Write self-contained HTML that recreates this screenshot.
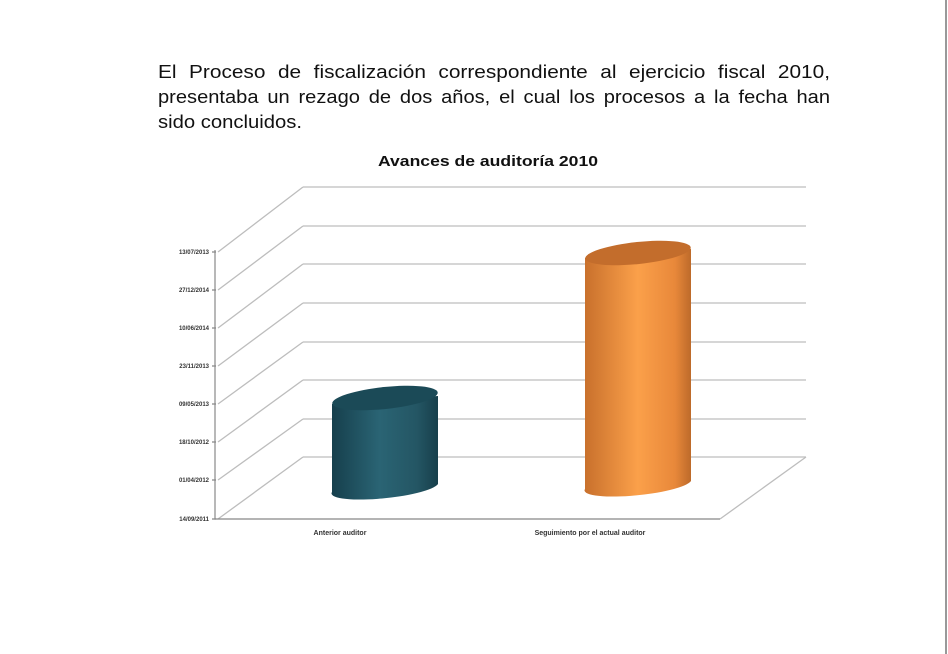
<!DOCTYPE html>
<html><head><meta charset="utf-8"><style>
html,body{margin:0;padding:0;background:#fff;width:948px;height:654px;overflow:hidden}
svg{display:block}
</style></head><body>
<svg width="948" height="654" viewBox="0 0 948 654" xmlns="http://www.w3.org/2000/svg">
<defs>
<linearGradient id="teal" x1="0" x2="1" y1="0" y2="0">
<stop offset="0" stop-color="#163f4c"/><stop offset="0.45" stop-color="#2a6474"/><stop offset="0.8" stop-color="#245664"/><stop offset="1" stop-color="#173f4b"/>
</linearGradient>
<linearGradient id="orange" x1="0" x2="1" y1="0" y2="0">
<stop offset="0" stop-color="#c8702c"/><stop offset="0.5" stop-color="#fba04a"/><stop offset="0.85" stop-color="#e8883a"/><stop offset="1" stop-color="#bd6a2a"/>
</linearGradient>
</defs>
<line x1="946" y1="0" x2="946" y2="654" stroke="#999" stroke-width="2"/>
<g font-family="Liberation Sans, sans-serif" font-size="18.5" fill="#111">
<text x="158" y="78" textLength="672" lengthAdjust="spacingAndGlyphs" word-spacing="6">El Proceso de fiscalización correspondiente al ejercicio fiscal 2010,</text>
<text x="158" y="103" textLength="672" lengthAdjust="spacingAndGlyphs" word-spacing="3">presentaba un rezago de dos años, el cual los procesos a la fecha han</text>
<text x="158" y="128" textLength="144" lengthAdjust="spacingAndGlyphs">sido concluidos.</text>
</g>
<text x="488" y="166" text-anchor="middle" font-family="Liberation Sans, sans-serif" font-size="15" font-weight="bold" fill="#111" textLength="220" lengthAdjust="spacingAndGlyphs">Avances de auditoría 2010</text>
<g stroke="#bdbdbd" stroke-width="1.3" fill="none">
<path d="M303 187H806M303 226H806M303 264H806M303 303H806M303 342H806M303 380H806M303 419H806M303 457H806"/>
<path d="M218 252L303 187M218 290L303 226M218 328L303 264M218 366L303 303M218 404L303 342M218 442L303 380M218 480L303 419M218 519L303 457"/>
<path d="M720 519L806 457"/>
</g>
<g stroke="#888" stroke-width="1.2" fill="none">
<path d="M215 250V519H720"/>
<path d="M212 252H216M212 290H216M212 328H216M212 366H216M212 404H216M212 442H216M212 480H216M212 519H216"/>
</g>
<g font-family="Liberation Sans, sans-serif" font-size="6" font-weight="bold" fill="#333" text-anchor="end">
<text x="209" y="254">13/07/2013</text>
<text x="209" y="292">27/12/2014</text>
<text x="209" y="330">10/06/2014</text>
<text x="209" y="368">23/11/2013</text>
<text x="209" y="406">09/05/2013</text>
<text x="209" y="444">18/10/2012</text>
<text x="209" y="482">01/04/2012</text>
<text x="209" y="521">14/09/2011</text>
</g>
<g font-family="Liberation Sans, sans-serif" font-size="7" font-weight="bold" fill="#333" text-anchor="middle">
<text x="340" y="535">Anterior auditor</text>
<text x="590" y="535">Seguimiento por el actual auditor</text>
</g>
<path d="M332 404 L332 492 A53 10 -6 0 0 438 484 L438 396 Z" fill="url(#teal)"/>
<ellipse cx="385" cy="398" rx="53" ry="11" transform="rotate(-6 385 398)" fill="#1b4a57"/>
<path d="M585 258 L585 489 A53 10 -6 0 0 691 481 L691 249 Z" fill="url(#orange)"/>
<ellipse cx="638" cy="253" rx="53" ry="11" transform="rotate(-6 638 253)" fill="#c36d2c"/>
</svg>
</body></html>
